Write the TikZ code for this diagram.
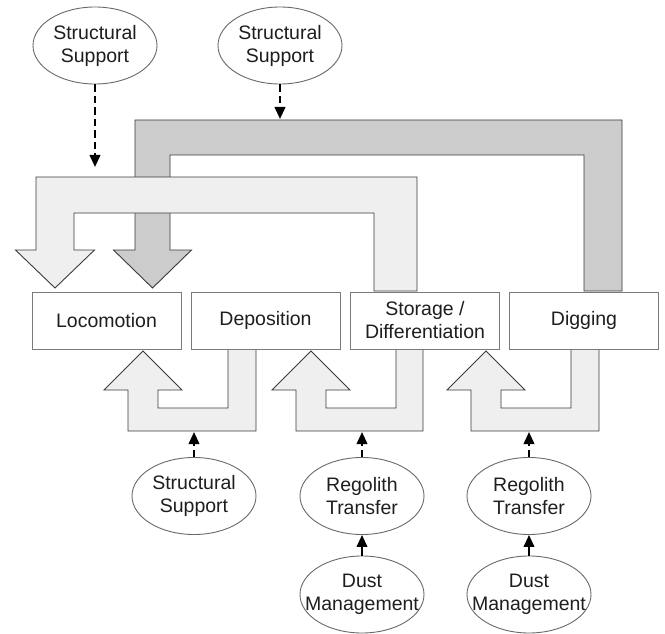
\documentclass[tikz,border=0pt]{standalone}
\usepackage{fontspec}
\setmainfont{Liberation Sans}
\usetikzlibrary{shapes.geometric,arrows.meta}
\definecolor{flowlight}{HTML}{EFEFEF}
\definecolor{flowdark}{HTML}{CCCCCC}
\definecolor{flowedge}{HTML}{3A3A3A}
\definecolor{boxedge}{HTML}{7A7A7A}
\definecolor{ovaledge}{HTML}{6A6A6A}
\definecolor{ink}{HTML}{1E1E1E}
% zero-width line so that the ellipse keeps its fixed size
\newcommand\zw[1]{\makebox[0pt]{#1}}
\begin{document}
\begin{tikzpicture}[x=1pt,y=-1pt,
  txt/.style={font=\fontsize{19.5pt}{23pt}\selectfont, text=ink, align=center},
  stage/.style={txt, draw=boxedge, line width=1pt, fill=white, rectangle,
    minimum width=149pt, minimum height=57pt, inner sep=0pt},
  oval/.style={txt, draw=ovaledge, line width=0.9pt, fill=white, ellipse,
    minimum width=124pt, minimum height=77pt, inner sep=0pt},
  blockarrow/.style={draw=flowedge, line width=0.9pt, line join=miter},
  feed/.style={line width=2.2pt, draw=black,
    -{Triangle[length=12pt,width=10.5pt]}},
  dashfeed/.style={feed, dash pattern=on 7.5pt off 4pt},
]
\useasboundingbox (0,0) rectangle (665,634);

% wide flow from Digging back to Locomotion
\draw[blockarrow, fill=flowdark]
  (622,291) -- (622,120) -- (135,120) -- (135,250) -- (113.5,250)
  -- (152.5,288) -- (191.5,250) -- (170,250) -- (170,155) -- (584,155)
  -- (584,291) -- cycle;
% wide flow from Storage back to Locomotion
\draw[blockarrow, fill=flowlight]
  (417,291) -- (417,177) -- (36,177) -- (36,250) -- (15.5,250)
  -- (55,288) -- (94.5,250) -- (74,250) -- (74,213) -- (374,213)
  -- (374,291) -- cycle;

% return flows below the stages
\draw[blockarrow, fill=flowlight]
  (256,349) -- (256,431) -- (128,431) -- (128,390) -- (104,390)
  -- (143,351) -- (182,390) -- (158,390) -- (158,408) -- (228,408)
  -- (228,349) -- cycle;
\draw[blockarrow, fill=flowlight]
  (423,349) -- (423,431) -- (296,431) -- (296,390) -- (272,390)
  -- (311,351) -- (350,390) -- (326,390) -- (326,408) -- (396,408)
  -- (396,349) -- cycle;
\draw[blockarrow, fill=flowlight]
  (599,349) -- (599,431) -- (471,431) -- (471,390) -- (447,390)
  -- (486,351) -- (525,390) -- (501,390) -- (501,408) -- (571,408)
  -- (571,349) -- cycle;

% stages
\node[stage] (loc) at (106.5,320.5) {Locomotion};
\node[stage] (dep) at (265.5,320.5) {Deposition};
\node[stage] (sto) at (425,320.5) {Storage /\\Differentiation};
\node[stage] (dig) at (584,320.5) {Digging};

% supporting functions
\node[oval] (ss1) at (95,45.5) {\zw{Structural}\\\zw{Support}};
\node[oval] (ss2) at (280,45.5) {\zw{Structural}\\\zw{Support}};
\node[oval] (ss3) at (194,496) {\zw{Structural}\\\zw{Support}};
\node[oval] (rt1) at (362,496) {\zw{Regolith}\\\zw{Transfer}};
\node[oval] (rt2) at (529,496) {\zw{Regolith}\\\zw{Transfer}};
\node[oval] (dm1) at (362,594.5) {\zw{Dust}\\\zw{Management}};
\node[oval] (dm2) at (529,594.5) {\zw{Dust}\\\zw{Management}};

% end points on the wide flows
\coordinate (in1) at (95,167);
\coordinate (in2) at (280,119);
\coordinate (in3) at (194,432);
\coordinate (in4) at (362,432);
\coordinate (in5) at (529,432);

\draw[dashfeed] (ss1.south) -- (in1);
\draw[dashfeed] (ss2.south) -- (in2);
\draw[dashfeed] (ss3.north) -- (in3);
\draw[dashfeed] (rt1.north) -- (in4);
\draw[dashfeed] (rt2.north) -- (in5);
\draw[feed] (dm1.north) -- (rt1.south);
\draw[feed] (dm2.north) -- (rt2.south);
\end{tikzpicture}
\end{document}
